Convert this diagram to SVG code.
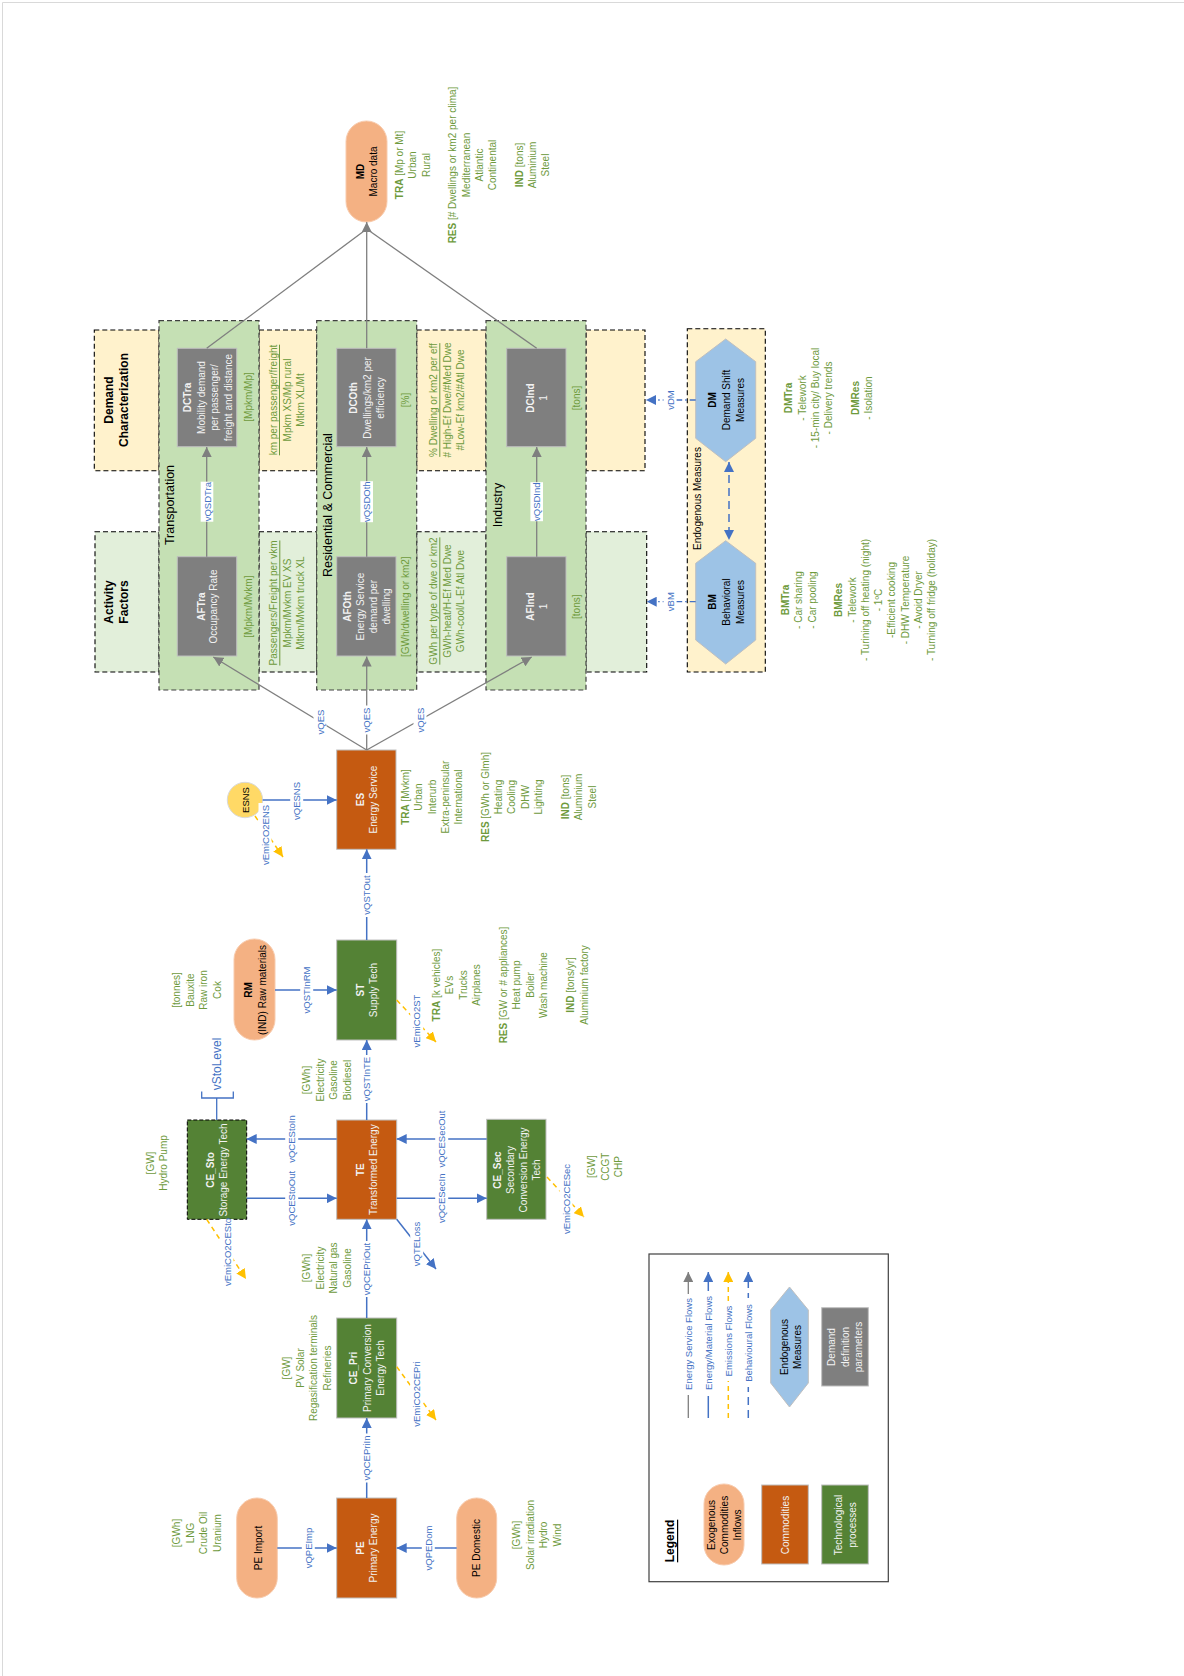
<svg xmlns="http://www.w3.org/2000/svg" width="1184" height="1676" viewBox="0 0 1184 1676">
<style>
text{font-family:"Liberation Sans",Arial,sans-serif;text-anchor:middle;dominant-baseline:central}
.g{fill:#6E9A3C;font-size:10px}
.b{fill:#4472C4;font-size:9.5px}
.w{fill:#F2F2F2;font-size:10px}
.k{fill:#000;font-size:10px}
.h{fill:#000;font-size:12px;font-weight:bold}
.sec{fill:#000;font-size:12.5px}
.bd{font-weight:bold}
.u{text-decoration:underline}
.gray{fill:#7F7F7F;stroke:#BFBFBF}
.org{fill:#C55A11;stroke:#BFBFBF}
.grn{fill:#548235;stroke:#BFBFBF}
.lor{fill:#F4B183;stroke:#F8CBAD}
.reg{fill:#C5E0B4;stroke:#404040;stroke-width:1.2;stroke-dasharray:5 3}
.yb{fill:#FFF2CC;stroke:#000;stroke-width:1.1;stroke-dasharray:5 3}
.lg{fill:#E2EFDA;stroke:#000;stroke-width:1.1;stroke-dasharray:5 3}
.hex{fill:#9DC3E6;stroke:#BFBFBF}
.cg{stroke:#7F7F7F;stroke-width:1.3;fill:none}
.cb{stroke:#4472C4;stroke-width:1.5;fill:none}
.cy{stroke:#FFC000;stroke-width:1.5;stroke-dasharray:5 4;fill:none}
.cd{stroke:#4472C4;stroke-width:1.3;stroke-dasharray:6 3 1.5 3;fill:none}
.cbd{stroke:#4472C4;stroke-width:1.5;stroke-dasharray:8 5;fill:none}
.bg{fill:#fff}
</style>
<defs>
<marker id="ag" viewBox="0 0 10 10" refX="10" refY="5" markerWidth="10" markerHeight="10" markerUnits="userSpaceOnUse" orient="auto-start-reverse"><path d="M0,0L10,5L0,10z" fill="#7F7F7F"/></marker>
<marker id="ab" viewBox="0 0 10 10" refX="10" refY="5" markerWidth="10" markerHeight="10" markerUnits="userSpaceOnUse" orient="auto-start-reverse"><path d="M0,0L10,5L0,10z" fill="#4472C4"/></marker>
<marker id="ay" viewBox="0 0 10 10" refX="10" refY="5" markerWidth="10" markerHeight="10" markerUnits="userSpaceOnUse" orient="auto-start-reverse"><path d="M0,0L10,5L0,10z" fill="#FFC000"/></marker>
</defs>
<rect width="1184" height="1676" fill="#fff"/>
<path d="M2.5,1676V2.5H1184" fill="none" stroke="#D9D9D9"/>

<!-- side boxes -->
<g id="demand-characterization">
<rect class="yb" x="94.3" y="330" width="64.7" height="140.7"/>
<text class="h" transform="translate(108.5,400) rotate(-90)">Demand<tspan x="0" dy="15">Characterization</tspan></text>
</g>
<g id="activity-factors">
<rect class="lg" x="95" y="531.7" width="64" height="140.3"/>
<text class="h" transform="translate(108.5,602) rotate(-90)">Activity<tspan x="0" dy="15">Factors</tspan></text>
</g>
<g id="tra-demand-units">
<rect class="yb" x="259" y="330" width="57.7" height="140.7"/>
<text class="g" transform="translate(273,400) rotate(-90)"><tspan class="u">km per passenger/freight</tspan><tspan x="0" dy="13.5">Mpkm XS/Mp rural</tspan><tspan x="0" dy="13.5">Mtkm XL/Mt</tspan></text>
</g>
<g id="tra-activity-units">
<rect class="lg" x="259" y="531.7" width="57.7" height="140.3"/>
<text class="g" transform="translate(273.3,603) rotate(-90)"><tspan class="u">Passengers/Freight per vkm</tspan><tspan x="0" dy="13.5">Mpkm/Mvkm EV XS</tspan><tspan x="0" dy="13.5">Mtkm/Mvkm truck XL</tspan></text>
</g>
<g id="oth-demand-units">
<rect class="yb" x="416.7" y="330" width="69.3" height="140.7"/>
<text class="g" transform="translate(433.3,400) rotate(-90)"><tspan class="u">% Dwelling or km2 per eff</tspan><tspan x="0" dy="13.4"># High-Ef Dwe/#Med Dwe</tspan><tspan x="0" dy="13.4">#Low-Ef km2/#Atl Dwe</tspan></text>
</g>
<g id="oth-activity-units">
<rect class="lg" x="416.7" y="531.7" width="69.3" height="140.3"/>
<text class="g" transform="translate(433.3,601) rotate(-90)"><tspan class="u">GWh per type of dwe or km2</tspan><tspan x="0" dy="13.4">GWh-heat/H-Ef Med Dwe</tspan><tspan x="0" dy="13.4">GWh-cool/L-Ef Atl Dwe</tspan></text>
</g>
<g id="ind-demand-units"><rect class="yb" x="586" y="330" width="59" height="140.7"/></g>
<g id="ind-activity-units"><rect class="lg" x="586" y="531.7" width="60.7" height="140.3"/></g>

<!-- sector regions -->
<g id="transportation">
<rect class="reg" x="159" y="320.7" width="100" height="369.3"/>
<text class="sec" transform="translate(170,505) rotate(-90)">Transportation</text>
<text class="g" transform="translate(248,397) rotate(-90)">[Mpkm/Mp]</text>
<text class="g" transform="translate(248.3,606.7) rotate(-90)">[Mpkm/Mvkm]</text>
</g>
<g id="residential-commercial">
<rect class="reg" x="316.7" y="320.7" width="100" height="369.3"/>
<text class="sec" transform="translate(328.3,505) rotate(-90)">Residential &amp; Commercial</text>
<text class="g" transform="translate(405,400) rotate(-90)">[%]</text>
<text class="g" transform="translate(405,606.7) rotate(-90)">[GWh/dwelling or km2]</text>
</g>
<g id="industry">
<rect class="reg" x="486" y="320.7" width="100" height="369.3"/>
<text class="sec" transform="translate(498.3,505) rotate(-90)">Industry</text>
<text class="g" transform="translate(576.7,398) rotate(-90)">[tons]</text>
<text class="g" transform="translate(576.7,606.7) rotate(-90)">[tons]</text>
</g>

<!-- demand nodes -->
<g id="DCTra">
<rect class="gray" x="177.3" y="348.3" width="59.4" height="98.4"/>
<text class="w" transform="translate(187,397.5) rotate(-90)"><tspan class="bd">DCTra</tspan><tspan x="0" dy="13.5">Mobility demand</tspan><tspan x="0" dy="13.5">per passenger/</tspan><tspan x="0" dy="13.5">freight and distance</tspan></text>
</g>
<g id="DCOth">
<rect class="gray" x="336.7" y="348.3" width="59.3" height="98.4"/>
<text class="w" transform="translate(353.3,398) rotate(-90)"><tspan class="bd">DCOth</tspan><tspan x="0" dy="13.4">Dwellings/km2 per</tspan><tspan x="0" dy="13.4">efficiency</tspan></text>
</g>
<g id="DCInd">
<rect class="gray" x="506.7" y="348.3" width="59.3" height="98.4"/>
<text class="w" transform="translate(530,398) rotate(-90)"><tspan class="bd">DCInd</tspan><tspan x="0" dy="13.4">1</tspan></text>
</g>
<g id="AFTra">
<rect class="gray" x="177.3" y="556.7" width="59.4" height="99.3"/>
<text class="w" transform="translate(200.7,606.5) rotate(-90)"><tspan class="bd">AFTra</tspan><tspan x="0" dy="12.8">Occupancy Rate</tspan></text>
</g>
<g id="AFOth">
<rect class="gray" x="336.7" y="556.7" width="59.3" height="99.3"/>
<text class="w" transform="translate(346.5,606.5) rotate(-90)"><tspan class="bd">AFOth</tspan><tspan x="0" dy="13.2">Energy Service</tspan><tspan x="0" dy="13.2">demand per</tspan><tspan x="0" dy="13.2">dwelling</tspan></text>
</g>
<g id="AFInd">
<rect class="gray" x="506.7" y="556.7" width="59.3" height="99.3"/>
<text class="w" transform="translate(530,606.5) rotate(-90)"><tspan class="bd">AFInd</tspan><tspan x="0" dy="13.4">1</tspan></text>
</g>

<g id="MD">
<rect class="lor" x="346" y="121" width="41" height="101" rx="20.5"/>
<text class="k" transform="translate(360,171.5) rotate(-90)"><tspan class="bd">MD</tspan><tspan x="0" dy="13.3">Macro data</tspan></text>
<text class="g" transform="translate(399,165) rotate(-90)"><tspan class="bd">TRA</tspan> [Mp or Mt]<tspan x="0" dy="13.3">Urban</tspan><tspan x="0" dy="13.3">Rural</tspan><tspan x="0" dy="26.6"><tspan class="bd">RES</tspan> [# Dwellings or km2 per clima]</tspan><tspan x="0" dy="13.3">Mediterranean</tspan><tspan x="0" dy="13.3">Atlantic</tspan><tspan x="0" dy="13.3">Continental</tspan><tspan x="0" dy="26.6"><tspan class="bd">IND</tspan> [tons]</tspan><tspan x="0" dy="13.3">Aluminium</tspan><tspan x="0" dy="13.3">Steel</tspan></text>
</g>

<!-- endogenous measures -->
<g id="endogenous-measures">
<rect class="yb" x="687.3" y="328.7" width="78" height="343.3"/>
<text class="k" transform="translate(697.5,498.5) rotate(-90)">Endogenous Measures</text>
</g>
<g id="DM">
<polygon class="hex" points="725.7,339 755.7,361.7 755.7,438.3 725.7,461.7 695.7,438.3 695.7,361.7"/>
<text class="k" transform="translate(712,400) rotate(-90)"><tspan class="bd">DM</tspan><tspan x="0" dy="14">Demand Shift</tspan><tspan x="0" dy="14">Measures</tspan></text>
<text class="g" transform="translate(788.3,398) rotate(-90)"><tspan class="bd">DMTra</tspan><tspan x="0" dy="13.3">- Telework</tspan><tspan x="0" dy="13.3">- 15-min city/ Buy local</tspan><tspan x="0" dy="13.3">- Delivery trends</tspan><tspan x="0" dy="26.6" class="bd">DMRes</tspan><tspan x="0" dy="13.3">- Isolation</tspan></text>
</g>
<g id="BM">
<polygon class="hex" points="725.7,540.7 755.7,563.3 755.7,640 725.7,664 695.7,640 695.7,563.3"/>
<text class="k" transform="translate(712,602) rotate(-90)"><tspan class="bd">BM</tspan><tspan x="0" dy="14">Behavioral</tspan><tspan x="0" dy="14">Measures</tspan></text>
<text class="g" transform="translate(785,600) rotate(-90)"><tspan class="bd">BMTra</tspan><tspan x="0" dy="13.3">- Car sharing</tspan><tspan x="0" dy="13.3">- Car pooling</tspan><tspan x="0" dy="26.6" class="bd">BMRes</tspan><tspan x="0" dy="13.3">- Telework</tspan><tspan x="0" dy="13.3">- Turining off heating (night)</tspan><tspan x="0" dy="13.3">- 1ºC</tspan><tspan x="0" dy="13.3">-Efficient cooking</tspan><tspan x="0" dy="13.3">- DHW Temperature</tspan><tspan x="0" dy="13.3">- Avoid Dryer</tspan><tspan x="0" dy="13.3">- Turning off fridge (holiday)</tspan></text>
</g>

<!-- energy chain nodes -->
<g id="ES">
<rect class="org" x="336.7" y="750" width="59.3" height="99.3"/>
<text class="w" transform="translate(360,799.6) rotate(-90)"><tspan class="bd">ES</tspan><tspan x="0" dy="13.3">Energy Service</tspan></text>
<text class="g" transform="translate(405,797) rotate(-90)"><tspan class="bd">TRA</tspan> [Mvkm]<tspan x="0" dy="13.3">Urban</tspan><tspan x="0" dy="13.3">Interurb</tspan><tspan x="0" dy="13.3">Extra-peninsular</tspan><tspan x="0" dy="13.3">International</tspan><tspan x="0" dy="26.6"><tspan class="bd">RES</tspan> [GWh or Glmh]</tspan><tspan x="0" dy="13.3">Heating</tspan><tspan x="0" dy="13.3">Cooling</tspan><tspan x="0" dy="13.3">DHW</tspan><tspan x="0" dy="13.3">Lighting</tspan><tspan x="0" dy="26.6"><tspan class="bd">IND</tspan> [tons]</tspan><tspan x="0" dy="13.5">Aluminium</tspan><tspan x="0" dy="13.5">Steel</tspan></text>
</g>
<g id="ESNS">
<circle cx="245" cy="800" r="17.7" fill="#FFD966" stroke="#D9D9D9"/>
<text class="k" style="font-size:9.5px" transform="translate(245,800) rotate(-90)">ESNS</text>
</g>
<g id="RM">
<rect class="lor" x="234" y="939" width="41" height="101" rx="20.5"/>
<text class="k" transform="translate(247.5,990) rotate(-90)"><tspan class="bd">RM</tspan><tspan x="0" dy="14">(IND) Raw materials</tspan></text>
<text class="g" transform="translate(176.7,990) rotate(-90)">[tonnes]<tspan x="0" dy="13.3">Bauxite</tspan><tspan x="0" dy="13.3">Raw iron</tspan><tspan x="0" dy="13.3">Cok</tspan></text>
</g>
<g id="ST">
<rect class="grn" x="336.7" y="940" width="60" height="100"/>
<text class="w" transform="translate(360,990) rotate(-90)"><tspan class="bd">ST</tspan><tspan x="0" dy="13.3">Supply Tech</tspan></text>
<text class="g" transform="translate(436,985) rotate(-90)"><tspan class="bd">TRA</tspan> [k vehicles]<tspan x="0" dy="13.4">EVs</tspan><tspan x="0" dy="13.4">Trucks</tspan><tspan x="0" dy="13.4">Airplanes</tspan><tspan x="0" dy="26.8"><tspan class="bd">RES</tspan> [GW or # appliances]</tspan><tspan x="0" dy="13.4">Heat pump</tspan><tspan x="0" dy="13.4">Boiler</tspan><tspan x="0" dy="13.4">Wash machine</tspan><tspan x="0" dy="26.8"><tspan class="bd">IND</tspan> [tons/yr]</tspan><tspan x="0" dy="14">Aluminium factory</tspan></text>
</g>
<g id="TE">
<rect class="org" x="336.7" y="1120" width="60" height="99.3"/>
<text class="w" transform="translate(360,1169.7) rotate(-90)"><tspan class="bd">TE</tspan><tspan x="0" dy="13.3">Transformed Energy</tspan></text>
<text class="g" transform="translate(306.7,1080) rotate(-90)">[GWh]<tspan x="0" dy="13.3">Electricity</tspan><tspan x="0" dy="13.3">Gasoline</tspan><tspan x="0" dy="13.3">Biodiesel</tspan></text>
<text class="g" transform="translate(306.7,1268) rotate(-90)">[GWh]<tspan x="0" dy="13.3">Electricity</tspan><tspan x="0" dy="13.3">Natural gas</tspan><tspan x="0" dy="13.3">Gasoline</tspan></text>
</g>
<g id="CE_Sto">
<rect x="187.3" y="1120" width="59.4" height="99.3" fill="#548235" stroke="#000" stroke-dasharray="4 2"/>
<text class="w" transform="translate(210,1170) rotate(-90)"><tspan class="bd">CE_Sto</tspan><tspan x="0" dy="13.3">Storage Energy Tech</tspan></text>
<text class="g" transform="translate(150,1163) rotate(-90)">[GW]<tspan x="0" dy="13.3">Hydro Pump</tspan></text>
</g>
<g id="CE_Sec">
<rect class="grn" x="486.7" y="1119.3" width="59.3" height="100"/>
<text class="w" transform="translate(496.7,1170) rotate(-90)"><tspan class="bd">CE_Sec</tspan><tspan x="0" dy="13.1">Secondary</tspan><tspan x="0" dy="13.1">Conversion Energy</tspan><tspan x="0" dy="13.1">Tech</tspan></text>
<text class="g" transform="translate(591.7,1166.7) rotate(-90)">[GW]<tspan x="0" dy="13.3">CCGT</tspan><tspan x="0" dy="13.3">CHP</tspan></text>
</g>
<g id="CE_Pri">
<rect class="grn" x="336.7" y="1318" width="60" height="100"/>
<text class="w" transform="translate(353.3,1368) rotate(-90)"><tspan class="bd">CE_Pri</tspan><tspan x="0" dy="13.3">Primary Conversion</tspan><tspan x="0" dy="13.3">Energy Tech</tspan></text>
<text class="g" transform="translate(286.7,1368) rotate(-90)">[GW]<tspan x="0" dy="13.3">PV Solar</tspan><tspan x="0" dy="13.3">Regasification terminals</tspan><tspan x="0" dy="13.3">Refineries</tspan></text>
</g>
<g id="PE">
<rect class="org" x="336.7" y="1498" width="60" height="100"/>
<text class="w" transform="translate(360,1548) rotate(-90)"><tspan class="bd">PE</tspan><tspan x="0" dy="13.3">Primary Energy</tspan></text>
</g>
<g id="PE-Import">
<rect class="lor" x="236.7" y="1498" width="40.6" height="100" rx="20.3"/>
<text class="k" transform="translate(258.3,1548) rotate(-90)">PE Import</text>
<text class="g" transform="translate(176.7,1533) rotate(-90)">[GWh]<tspan x="0" dy="13.3">LNG</tspan><tspan x="0" dy="13.3">Crude Oil</tspan><tspan x="0" dy="13.3">Uranium</tspan></text>
</g>
<g id="PE-Domestic">
<rect class="lor" x="456.7" y="1498" width="40" height="100" rx="20"/>
<text class="k" transform="translate(476.7,1548) rotate(-90)">PE Domestic</text>
<text class="g" transform="translate(516.7,1535) rotate(-90)">[GWh]<tspan x="0" dy="13.3">Solar irradiation</tspan><tspan x="0" dy="13.3">Hydro</tspan><tspan x="0" dy="13.3">Wind</tspan></text>
</g>

<!-- connectors -->
<g id="connectors">
<line class="cg" x1="206.7" y1="348.3" x2="366.7" y2="229"/>
<line class="cg" x1="536.7" y1="348.3" x2="366.7" y2="229"/>
<line class="cg" x1="366.7" y1="348.3" x2="366.7" y2="222" marker-end="url(#ag)"/>
<line class="cg" x1="206.7" y1="556.7" x2="206.7" y2="447" marker-end="url(#ag)"/>
<line class="cg" x1="366.7" y1="556.7" x2="366.7" y2="447" marker-end="url(#ag)"/>
<line class="cg" x1="536.7" y1="556.7" x2="536.7" y2="447" marker-end="url(#ag)"/>
<line class="cg" x1="366.7" y1="750" x2="213.3" y2="657" marker-end="url(#ag)"/>
<line class="cg" x1="366.7" y1="750" x2="366.7" y2="656.5" marker-end="url(#ag)"/>
<line class="cg" x1="366.7" y1="750" x2="531.7" y2="657" marker-end="url(#ag)"/>

<line class="cb" x1="262.7" y1="800" x2="336.7" y2="800" marker-end="url(#ab)"/>
<line class="cb" x1="275" y1="990" x2="336.7" y2="990" marker-end="url(#ab)"/>
<line class="cb" x1="366.7" y1="940" x2="366.7" y2="849.3" marker-end="url(#ab)"/>
<line class="cb" x1="366.7" y1="1120" x2="366.7" y2="1040" marker-end="url(#ab)"/>
<line class="cb" x1="336.7" y1="1139" x2="246.7" y2="1139" marker-end="url(#ab)"/>
<line class="cb" x1="246.7" y1="1198.3" x2="336.7" y2="1198.3" marker-end="url(#ab)"/>
<line class="cb" x1="486.7" y1="1139" x2="396.7" y2="1139" marker-end="url(#ab)"/>
<line class="cb" x1="396.7" y1="1198.3" x2="486.7" y2="1198.3" marker-end="url(#ab)"/>
<line class="cb" x1="396.7" y1="1219.3" x2="436" y2="1269" marker-end="url(#ab)"/>
<line class="cb" x1="366.7" y1="1318" x2="366.7" y2="1219.3" marker-end="url(#ab)"/>
<line class="cb" x1="366.7" y1="1498" x2="366.7" y2="1418" marker-end="url(#ab)"/>
<line class="cb" x1="277.3" y1="1548" x2="336.7" y2="1548" marker-end="url(#ab)"/>
<line class="cb" x1="456.7" y1="1548" x2="396.7" y2="1548" marker-end="url(#ab)"/>
<path class="cb" style="stroke-width:1.3" d="M201.7,1091.5V1098H233.3V1091.5M216.7,1098V1120"/>

<line class="cy" x1="255" y1="816" x2="283" y2="857" marker-end="url(#ay)"/>
<line class="cy" x1="396.7" y1="1000" x2="436" y2="1042" marker-end="url(#ay)"/>
<line class="cy" x1="206.7" y1="1219.3" x2="246" y2="1279" marker-end="url(#ay)"/>
<line class="cy" x1="547" y1="1177" x2="584" y2="1217" marker-end="url(#ay)"/>
<line class="cy" x1="396.7" y1="1366.7" x2="436" y2="1420" marker-end="url(#ay)"/>

<line class="cd" x1="695.7" y1="400" x2="646" y2="400" marker-end="url(#ab)"/>
<line class="cd" x1="695.7" y1="601.7" x2="646.7" y2="601.7" marker-end="url(#ab)"/>
<line class="cbd" x1="729" y1="462" x2="729" y2="540" marker-start="url(#ab)" marker-end="url(#ab)"/>

<!-- labels -->
<rect class="bg" x="200.7" y="481.7" width="12.6" height="40"/><text class="b" transform="translate(207,501.7) rotate(-90)">vQSDTra</text>
<rect class="bg" x="360.4" y="481.2" width="12.6" height="41"/><text class="b" transform="translate(366.7,501.7) rotate(-90)">vQSDOth</text>
<rect class="bg" x="530.4" y="482.2" width="12.6" height="39"/><text class="b" transform="translate(536.7,501.7) rotate(-90)">vQSDInd</text>
<rect class="bg" x="313.5" y="707.5" width="13" height="29"/><text class="b" transform="translate(320,722) rotate(-90)">vQES</text>
<rect class="bg" x="360.2" y="705.5" width="13" height="29"/><text class="b" transform="translate(366.7,720) rotate(-90)">vQES</text>
<rect class="bg" x="413.5" y="705.5" width="13" height="29"/><text class="b" transform="translate(420,720) rotate(-90)">vQES</text>
<rect class="bg" x="290.2" y="780" width="13" height="42"/><text class="b" transform="translate(296.7,801) rotate(-90)">vQESNS</text>
<rect class="bg" x="300.2" y="964.5" width="13" height="51"/><text class="b" transform="translate(306.7,990) rotate(-90)">vQSTInRM</text>
<rect class="bg" x="360.2" y="873" width="13" height="44"/><text class="b" transform="translate(366.7,895) rotate(-90)">vQSTOut</text>
<rect class="bg" x="360.2" y="1055" width="13" height="48"/><text class="b" transform="translate(366.7,1079) rotate(-90)">vQSTInTE</text>
<rect class="bg" x="285.2" y="1113" width="13" height="52"/><text class="b" transform="translate(291.7,1139) rotate(-90)">vQCEStoIn</text>
<rect class="bg" x="285.2" y="1168.8" width="13" height="59"/><text class="b" transform="translate(291.7,1198.3) rotate(-90)">vQCEStoOut</text>
<rect class="bg" x="435.2" y="1108.5" width="13" height="61"/><text class="b" transform="translate(441.7,1139) rotate(-90)">vQCESecOut</text>
<rect class="bg" x="435.2" y="1171.3" width="13" height="54"/><text class="b" transform="translate(441.7,1198.3) rotate(-90)">vQCESecIn</text>
<rect class="bg" x="410.2" y="1222" width="13" height="44"/><text class="b" transform="translate(416.7,1244) rotate(-90)">vQTELoss</text>
<rect class="bg" x="360.2" y="1241" width="13" height="56"/><text class="b" transform="translate(366.7,1269) rotate(-90)">vQCEPriOut</text>
<rect class="bg" x="360.2" y="1433.5" width="13" height="49"/><text class="b" transform="translate(366.7,1458) rotate(-90)">vQCEPriIn</text>
<rect class="bg" x="301.8" y="1525.5" width="13" height="45"/><text class="b" transform="translate(308.3,1548) rotate(-90)">vQPEImp</text>
<rect class="bg" x="421.8" y="1523.5" width="13" height="49"/><text class="b" transform="translate(428.3,1548) rotate(-90)">vQPEDom</text>
<rect class="bg" x="258.5" y="803" width="13" height="64"/><text class="b" transform="translate(265,835) rotate(-90)">vEmiCO2ENS</text>
<rect class="bg" x="410.2" y="992.5" width="13" height="57"/><text class="b" transform="translate(416.7,1021) rotate(-90)">vEmiCO2ST</text>
<rect class="bg" x="220.5" y="1219" width="13" height="66"/><text class="b" transform="translate(227,1252) rotate(-90)">vEmiCO2CESto</text>
<rect class="bg" x="559.5" y="1164" width="13" height="70"/><text class="b" transform="translate(566,1199) rotate(-90)">vEmiCO2CESec</text>
<rect class="bg" x="410.2" y="1361" width="13" height="66"/><text class="b" transform="translate(416.7,1394) rotate(-90)">vEmiCO2CEPri</text>
<text class="b" style="font-size:12px" transform="translate(216.7,1064) rotate(-90)">vStoLevel</text>
<rect class="bg" x="663.5" y="388" width="13" height="24"/><text class="b" transform="translate(670,400) rotate(-90)">vDM</text>
<rect class="bg" x="663.5" y="589.7" width="13" height="24"/><text class="b" transform="translate(670,601.7) rotate(-90)">vBM</text>
</g>

<!-- legend -->
<g id="legend">
<rect x="649" y="1254" width="239.3" height="327.7" fill="#fff" stroke="#404040" stroke-width="1.2"/>
<text class="h u" transform="translate(670,1541) rotate(-90)">Legend</text>
<rect class="lor" x="704" y="1484" width="40" height="81" rx="20"/>
<text class="k" transform="translate(711.7,1525) rotate(-90)">Exogenous<tspan x="0" dy="12.5">Commodities</tspan><tspan x="0" dy="12.5">Inflows</tspan></text>
<rect class="org" x="761.7" y="1485" width="46.6" height="79"/>
<text class="w" transform="translate(785,1525) rotate(-90)">Commodities</text>
<rect class="grn" x="821.7" y="1485" width="46.6" height="79"/>
<text class="w" transform="translate(838.3,1525) rotate(-90)">Technological<tspan x="0" dy="13.4">processes</tspan></text>
<line class="cg" x1="688.3" y1="1418" x2="688.3" y2="1272" marker-end="url(#ag)"/>
<line class="cb" x1="708.3" y1="1418" x2="708.3" y2="1272" marker-end="url(#ab)"/>
<line class="cy" x1="728.3" y1="1418" x2="728.3" y2="1272" marker-end="url(#ay)"/>
<line class="cbd" x1="748.3" y1="1418" x2="748.3" y2="1272" marker-end="url(#ab)"/>
<rect class="bg" x="681.8" y="1294" width="13" height="101"/><text class="b" transform="translate(688.3,1344) rotate(-90)">Energy Service Flows</text>
<rect class="bg" x="701.8" y="1291" width="13" height="105"/><text class="b" transform="translate(708.3,1343) rotate(-90)">Energy/Material Flows</text>
<rect class="bg" x="721.8" y="1302" width="13" height="79"/><text class="b" transform="translate(728.3,1341) rotate(-90)">Emissions Flows</text>
<rect class="bg" x="741.8" y="1298" width="13" height="89"/><text class="b" transform="translate(748.3,1343) rotate(-90)">Behavioural Flows</text>
<polygon class="hex" points="789.5,1287 808.3,1310 808.3,1383 789.5,1407 770.7,1383 770.7,1310"/>
<text class="k" transform="translate(784,1347) rotate(-90)">Endogenous<tspan x="0" dy="12.7">Measures</tspan></text>
<rect class="gray" x="821.7" y="1307.7" width="46.6" height="78.3"/>
<text class="w" transform="translate(831.7,1347) rotate(-90)">Demand<tspan x="0" dy="13.3">definition</tspan><tspan x="0" dy="13.3">parameters</tspan></text>
</g>
</svg>
